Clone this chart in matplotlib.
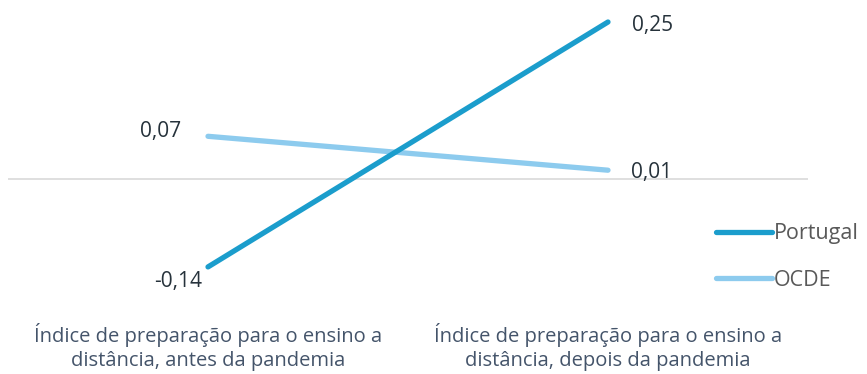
import matplotlib
matplotlib.use("Agg")
import matplotlib.pyplot as plt

categories = ["Índice de preparação para o ensino a\ndistância, antes da pandemia",
              "Índice de preparação para o ensino a\ndistância, depois da pandemia"]
portugal = [-0.14, 0.25]
ocde = [0.068, 0.014]
series_names = ["Portugal", "OCDE"]
colors = ["#1b9dcc", "#8dcbee"]

plt.rcParams['font.family'] = ['Open Sans', 'DejaVu Sans']

W, H = 867, 374
fig = plt.figure(figsize=(W/100, H/100), dpi=100)
# axes spans pixel x 8..808, y 10..290
ax = fig.add_axes([8/W, (H-290)/H, 800/W, 280/H])
scale = 628.0
zero_px = 179
ax.set_xlim(-0.5, 1.5)
ax.set_ylim((zero_px-290)/scale, (zero_px-10)/scale)
ax.axis('off')

x = [0, 1]
ax.axhline(0, color="#d9d9d9", lw=1.2, zorder=1)
l1, = ax.plot(x, portugal, color=colors[0], lw=3.8, solid_capstyle='round', zorder=3, label=series_names[0])
l2, = ax.plot(x, ocde, color=colors[1], lw=3.8, solid_capstyle='round', zorder=2, label=series_names[1])

def fmt(v):
    return f"{v:.2f}".replace(".", ",")

tc = "#26323b"
fs = 15
ax.annotate(fmt(portugal[0]), (x[0], portugal[0]), xytext=(-30, -15), textcoords='offset pixels',
            ha='center', va='center', fontsize=fs, color=tc)
ax.annotate(fmt(portugal[1]), (x[1], portugal[1]), xytext=(45, -3), textcoords='offset pixels',
            ha='center', va='center', fontsize=fs, color=tc)
ax.annotate(fmt(ocde[0]), (x[0], ocde[0]), xytext=(-47, 5), textcoords='offset pixels',
            ha='center', va='center', fontsize=fs, color=tc)
ax.annotate(fmt(ocde[1]), (x[1], ocde[1]), xytext=(44, -2), textcoords='offset pixels',
            ha='center', va='center', fontsize=fs, color=tc)

for xi, cat in zip(x, categories):
    fig.text(ax.transData.transform((xi, 0))[0]/W, (H-347)/H, cat, ha='center', va='center',
             fontsize=14.5, color="#44546a", linespacing=1.3)

leg = fig.legend(handles=[l1, l2], loc='center left', bbox_to_anchor=(716/W, (H-257)/H),
                 frameon=False, fontsize=15.5, handlelength=2.6, handletextpad=0.1,
                 labelspacing=1.2, borderaxespad=0, borderpad=0)
for t in leg.get_texts():
    t.set_color("#595959")

fig.savefig("out.png", dpi=100)
